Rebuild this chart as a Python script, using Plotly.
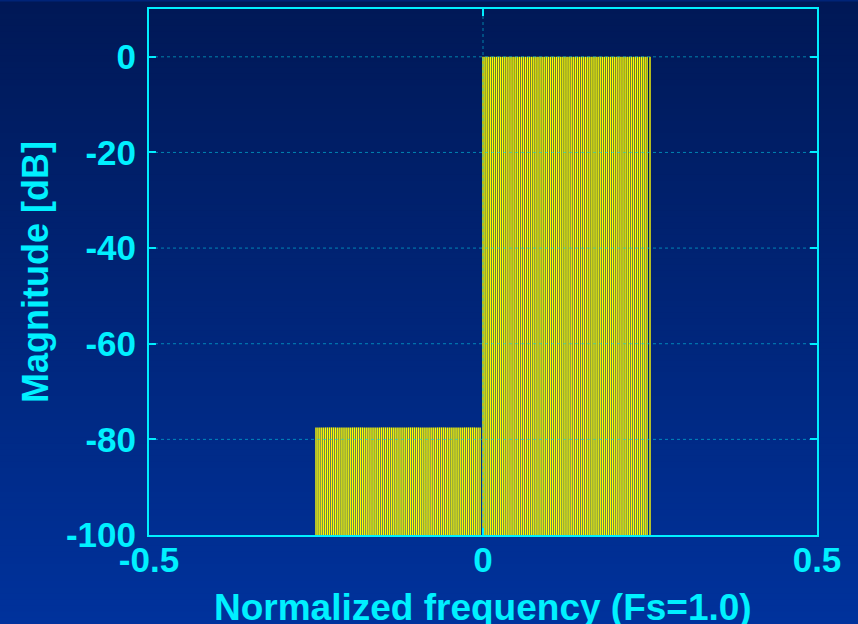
import numpy as np
import plotly.graph_objects as go

# Spectrum description: two flat bands of stems
band_edges = [-0.25, 0.0, 0.25]          # normalized frequency band limits
band_levels_db = [-77.5, 0.0]             # magnitude of each band [dB]
n_points = 346                            # frequency bins per unit of Fs
stem_floor_db = -100.0

x_ticks = [-0.5, 0.0, 0.5]
x_tick_labels = ["-0.5", "0", "0.5"]
y_ticks = [0, -20, -40, -60, -80, -100]
y_tick_labels = ["0", "-20", "-40", "-60", "-80", "-100"]
x_range = [-0.5, 0.5]
y_range = [-100, 10]

CYAN = "#00f0ff"
GRID = "rgba(0,215,235,0.55)"
STEM = "#ffff00"
FONT = "Liberation Sans, Arial, sans-serif"

# One vertical segment per frequency bin, separated by None
step = 1.0 / n_points
sx, sy = [], []
for lo, hi, level in zip(band_edges[:-1], band_edges[1:], band_levels_db):
    freqs = np.arange(lo, hi - step / 2, step)
    for f in freqs:
        sx += [f, f, None]
        sy += [stem_floor_db, level, None]
sx += [band_edges[-1], band_edges[-1], None]
sy += [stem_floor_db, band_levels_db[-1], None]

fig = go.Figure()
fig.add_trace(go.Scatter(
    x=sx, y=sy, mode="lines",
    line=dict(color=STEM, width=1.4),
    hoverinfo="skip", showlegend=False,
))

W, H = 858, 624
ml, mr, mt, mb = 149, 41, 7, 89
plot_h = H - mt - mb

# Vertical gradient background, from deep navy at the top to royal blue at the bottom
shapes = []
top_rgb = np.array([0, 24, 86])
bot_rgb = np.array([0, 50, 156])
rows = 104
for i in range(rows):
    p0 = i * H / rows
    p1 = (i + 1) * H / rows
    t = (p0 + p1) / 2 / H
    r, g, b = (top_rgb + (bot_rgb - top_rgb) * t).round().astype(int)
    shapes.append(dict(
        type="rect", xref="paper", yref="paper",
        x0=-ml / (W - ml - mr) - 0.01, x1=1 + mr / (W - ml - mr) + 0.01,
        y0=(H - mb - p1 - 0.5) / plot_h, y1=(H - mb - p0 + 0.5) / plot_h,
        fillcolor=f"rgb({r},{g},{b})", line=dict(width=0), layer="below",
    ))

# Dotted grid drawn above the stems
for yv in y_ticks:
    if y_range[0] < yv < y_range[1]:
        shapes.append(dict(type="line", xref="paper", yref="y", x0=0, x1=1,
                           y0=yv, y1=yv, line=dict(color=GRID, width=1, dash="dot"),
                           layer="above"))
for xv in x_ticks:
    if x_range[0] < xv < x_range[1]:
        shapes.append(dict(type="line", xref="x", yref="paper", x0=xv, x1=xv,
                           y0=0, y1=1, line=dict(color=GRID, width=1, dash="dot"),
                           layer="above"))

axis_common = dict(
    showline=True, linecolor=CYAN, linewidth=2, mirror="ticks",
    ticks="inside", ticklen=7, tickwidth=2, tickcolor=CYAN,
    showgrid=False, zeroline=False,
    tickfont=dict(family=FONT, size=35, color=CYAN, weight="bold"),
    layer="above traces",
)

fig.update_layout(
    width=W, height=H,
    margin=dict(l=ml, r=mr, t=mt, b=mb, pad=0),
    paper_bgcolor="rgb(0,36,120)", plot_bgcolor="rgba(0,0,0,0)",
    shapes=shapes,
    xaxis=dict(range=x_range, tickvals=x_ticks, ticktext=x_tick_labels,
               ticklabelstandoff=-7, **axis_common),
    yaxis=dict(range=y_range, tickvals=y_ticks, ticktext=y_tick_labels,
               ticklabelstandoff=4, **axis_common),
    annotations=[
        dict(text="Normalized frequency (Fs=1.0)", xref="paper", yref="paper",
             x=0.5, y=0, xanchor="center", yanchor="top", yshift=-50,
             showarrow=False,
             font=dict(family=FONT, size=37, color=CYAN, weight="bold")),
        dict(text="Magnitude [dB]", xref="paper", yref="paper",
             x=0, y=0.5, xanchor="center", yanchor="middle", xshift=-114,
             textangle=-90, showarrow=False,
             font=dict(family=FONT, size=36, color=CYAN, weight="bold")),
    ],
)

fig.write_html("out.html")
